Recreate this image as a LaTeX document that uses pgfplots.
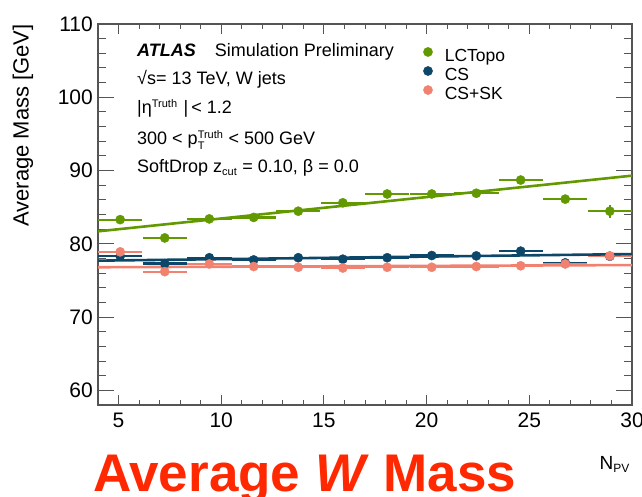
\documentclass[border=0pt]{standalone}
\usepackage{fontspec}
\setmainfont{Liberation Sans}
\usepackage{pgfplots}
\pgfplotsset{compat=1.18}
\usepackage{pgfplotstable}

\definecolor{lctopo}{RGB}{98,152,0}
\definecolor{csblue}{RGB}{12,70,105}
\definecolor{cssk}{RGB}{242,130,112}
\definecolor{titlered}{RGB}{255,40,0}
\definecolor{axisgray}{RGB}{85,85,85}

% x  y  ex  ey
\pgfplotstableread{
x     y     ex    ey
5.08  83.3  1.08  0.3
7.25  80.8  1.08  0.3
9.42  83.4  1.08  0.3
11.58 83.6  1.08  0.3
13.75 84.45 1.08  0.3
15.92 85.6  1.08  0.3
18.08 86.8  1.08  0.3
20.25 86.8  1.08  0.3
22.42 86.9  1.08  0.3
24.58 88.7  1.08  0.3
26.75 86.1  1.08  0.3
28.92 84.45 1.08  0.9
}\lctopo

\pgfplotstableread{
x     y     ex    ey
5.08  78.3  1.08  0.5
7.25  77.3  1.08  0.25
9.42  78.1  1.08  0.25
11.58 77.8  1.08  0.25
13.75 78.1  1.08  0.25
15.92 77.9  1.08  0.25
18.08 78.1  1.08  0.25
20.25 78.4  1.08  0.25
22.42 78.35 1.08  0.25
24.58 79.0  1.08  0.25
26.75 77.4  1.08  0.25
28.92 78.3  1.08  0.25
}\cs

\pgfplotstableread{
x     y     ex    ey
5.08  78.9  1.08  0.2
7.25  76.2  1.08  0.2
9.42  77.25 1.08  0.2
11.58 76.9  1.08  0.2
13.75 76.8  1.08  0.2
15.92 76.7  1.08  0.2
18.08 76.8  1.08  0.2
20.25 76.8  1.08  0.2
22.42 76.9  1.08  0.2
24.58 77.0  1.08  0.2
26.75 77.25 1.08  0.2
28.92 78.35 1.08  0.2
}\cssk

\newcommand{\sz}[1]{\mbox{\fontsize{11}{11}\selectfont #1}}

\begin{document}
\begin{tikzpicture}
\useasboundingbox (0,0) rectangle (642pt,497pt);
\begin{axis}[
    at={(98pt,92pt)}, anchor=south west,
    scale only axis,
    width=534pt, height=381pt,
    xmin=4, xmax=30, ymin=58, ymax=110,
    xtick={5,10,...,30}, ytick={60,70,...,110},
    minor x tick num=4, minor y tick num=4,
    tick align=inside,
    major x tick style={/pgfplots/major tick length=10pt},
    minor x tick style={/pgfplots/minor tick length=5pt},
    major y tick style={/pgfplots/major tick length=16pt},
    minor y tick style={/pgfplots/minor tick length=8pt},
    tick style={axisgray, line width=1pt},
    axis line style={axisgray, line width=1.3pt},
    ticklabel style={font=\fontsize{21}{21}\selectfont},
    /pgf/number format/assume math mode=true,
    yticklabel style={inner sep=0pt, xshift=-5pt},
    xticklabel style={inner sep=0pt, yshift=-8pt},
    error bars/error bar style={line width=2.2pt},
    error bars/error mark=none,
    legend image code/.code={\fill[#1] (0pt,5.5pt) circle (4.6pt);},
    legend style={draw=none, fill=none, at={(0.603,0.945)}, anchor=north west,
        font=\fontsize{17.5}{17.5}\selectfont, row sep=1pt, column sep=12pt,
        nodes={inner sep=0pt, text height=12pt, text depth=3.5pt},
        cells={anchor=west}},
]
\addplot[color=lctopo, only marks, mark=*, mark size=4.6pt,
    error bars/.cd, x dir=both, x explicit, y dir=both, y explicit]
    table[x=x, y=y, x error=ex, y error=ey] {\lctopo};
\addplot[color=csblue, only marks, mark=*, mark size=4.6pt,
    error bars/.cd, x dir=both, x explicit, y dir=both, y explicit]
    table[x=x, y=y, x error=ex, y error=ey] {\cs};
\addplot[color=cssk, only marks, mark=*, mark size=4.6pt,
    error bars/.cd, x dir=both, x explicit, y dir=both, y explicit]
    table[x=x, y=y, x error=ex, y error=ey] {\cssk};
\addplot[forget plot, lctopo, line width=2.6pt] coordinates {(4,81.7) (30,89.3)};
\addplot[forget plot, csblue, line width=2.6pt] coordinates {(4,77.7) (30,78.6)};
\addplot[forget plot, cssk, line width=2.6pt] coordinates {(4,76.8) (30,77.1)};
\legend{LCTopo, CS, CS+SK}
\end{axis}

% annotations
\begin{scope}[every node/.style={anchor=base west, inner sep=0pt, font=\fontsize{18}{18}\selectfont}]
\node at (137pt,440pt) {\textbf{\textit{ATLAS}}\hspace{19pt}Simulation Preliminary};
\node at (137pt,412pt) {√s= 13 TeV, W jets};
\node at (137pt,383pt) {|η${}^{\sz{Truth}}$\,\,|\,< 1.2};
\node at (137pt,352pt) {300 < p${}^{\sz{Truth}}_{\sz{T}}$ < 500 GeV};
\node at (137pt,324pt) {SoftDrop z${}_{\sz{cut}}$ = 0.10, β = 0.0};
\end{scope}

\node[rotate=90, anchor=east, inner sep=0pt, font=\fontsize{22}{22}\selectfont]
    at (23pt,473pt) {Average Mass [GeV]};
\node[anchor=base east, inner sep=0pt, font=\fontsize{19}{19}\selectfont]
    at (630pt,27pt) {N${}_{\mbox{\fontsize{12}{12}\selectfont PV}}$};
\node[anchor=base west, inner sep=0pt, text=titlered,
    font=\fontsize{53}{53}\selectfont\bfseries]
    at (93pt,5pt) {Average \textit{W} Mass};
\end{tikzpicture}
\end{document}
